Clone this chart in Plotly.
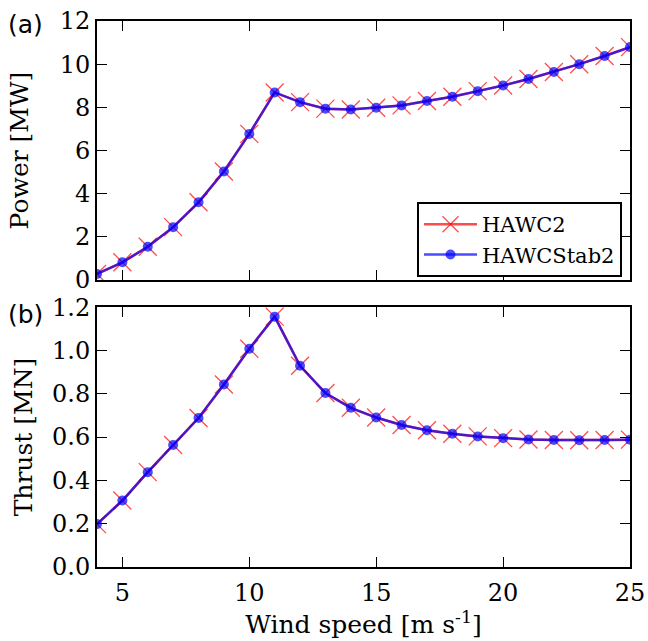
import plotly.graph_objects as go
from plotly.subplots import make_subplots

wind_speed = list(range(4, 26))
power_hawc2 = [0.28, 0.82, 1.54, 2.45, 3.60, 5.03, 6.77, 8.69, 8.24, 7.94, 7.90, 7.98, 8.09, 8.29, 8.49, 8.75, 9.01, 9.31, 9.64, 10.00, 10.38, 10.79]
power_hawcstab2 = [0.28, 0.82, 1.54, 2.45, 3.60, 5.03, 6.77, 8.69, 8.24, 7.94, 7.90, 7.98, 8.09, 8.29, 8.49, 8.75, 9.01, 9.31, 9.64, 10.00, 10.38, 10.79]
thrust_hawc2 = [0.198, 0.307, 0.438, 0.563, 0.688, 0.843, 1.008, 1.156, 0.929, 0.803, 0.735, 0.690, 0.656, 0.631, 0.615, 0.603, 0.595, 0.589, 0.586, 0.585, 0.586, 0.588]
thrust_hawcstab2 = [0.198, 0.307, 0.438, 0.563, 0.688, 0.843, 1.008, 1.156, 0.929, 0.803, 0.735, 0.690, 0.656, 0.631, 0.615, 0.603, 0.595, 0.589, 0.586, 0.585, 0.586, 0.588]

power_ticks = [0, 2, 4, 6, 8, 10, 12]
thrust_ticks = [0.0, 0.2, 0.4, 0.6, 0.8, 1.0, 1.2]
thrust_ticklabels = ["0.0", "0.2", "0.4", "0.6", "0.8", "1.0", "1.2"]
x_ticks = [5, 10, 15, 20, 25]

SERIF = "DejaVu Serif"
RED = "rgba(255,0,0,0.7)"
BLUE = "rgba(0,0,255,0.7)"

fig = make_subplots(rows=2, cols=1, shared_xaxes=False, vertical_spacing=0.0)

def add_pair(row, y1, y2, show):
    fig.add_trace(go.Scatter(
        x=wind_speed, y=y1, mode="lines+markers", name="HAWC2", showlegend=show,
        line=dict(color=RED, width=2.5),
        marker=dict(symbol="x-thin", size=18, line=dict(color=RED, width=1.3), color=RED),
    ), row=row, col=1)
    fig.add_trace(go.Scatter(
        x=wind_speed, y=y2, mode="lines+markers", name="HAWCStab2", showlegend=show,
        line=dict(color=BLUE, width=2.5),
        marker=dict(symbol="circle", size=10, color=BLUE, line=dict(width=0)),
    ), row=row, col=1)

add_pair(1, power_hawc2, power_hawcstab2, True)
add_pair(2, thrust_hawc2, thrust_hawcstab2, False)

axis_common = dict(
    showline=True, linecolor="black", linewidth=2, mirror="ticks",
    ticks="inside", ticklen=10, tickwidth=1, tickcolor="black",
    showgrid=False, zeroline=False, automargin=False,
    tickfont=dict(family=SERIF, size=24, color="black"),
)
TITLE_FONT = dict(family=SERIF, size=25, color="black")

fig.update_xaxes(**axis_common, range=[4, 25], tickvals=x_ticks)
fig.update_xaxes(showticklabels=False, row=1, col=1)
fig.update_xaxes(ticklabelstandoff=3,
                 title=dict(text="Wind speed [m s<sup>-1</sup>]", font=TITLE_FONT, standoff=8), row=2, col=1)

fig.update_yaxes(**axis_common)
fig.update_yaxes(range=[0, 12], tickvals=power_ticks,
                 title=dict(text="Power [MW]", font=TITLE_FONT, standoff=24), row=1, col=1)
fig.update_yaxes(range=[0, 1.2], tickvals=thrust_ticks, ticktext=thrust_ticklabels,
                 title=dict(text="Thrust [MN]", font=TITLE_FONT, standoff=12), row=2, col=1)

fig.update_layout(
    width=648, height=641,
    margin=dict(l=97, r=18, t=21, b=74),
    paper_bgcolor="white", plot_bgcolor="white",
    yaxis=dict(domain=[0.5256, 1.0]),
    yaxis2=dict(domain=[0.0, 0.476]),
    legend=dict(
        x=0.985, y=0.531, xanchor="right", yanchor="bottom", xref="paper", yref="paper",
        bgcolor="white", bordercolor="black", borderwidth=2, itemwidth=53,
        font=dict(family=SERIF, size=21, color="black"),
    ),
    showlegend=True,
)

fig.add_annotation(text="(a)", x=-0.17, y=1.0, xref="paper", yref="paper", yshift=-3,
                   xanchor="left", yanchor="middle", showarrow=False,
                   font=dict(family="DejaVu Sans", size=25, color="black"))
fig.add_annotation(text="(b)", x=-0.17, y=0.476, xref="paper", yref="paper", yshift=-7,
                   xanchor="left", yanchor="middle", showarrow=False,
                   font=dict(family="DejaVu Sans", size=25, color="black"))

fig.write_html("out.html", config={"displayModeBar": False},
               post_script="document.body.style.margin='0';")
